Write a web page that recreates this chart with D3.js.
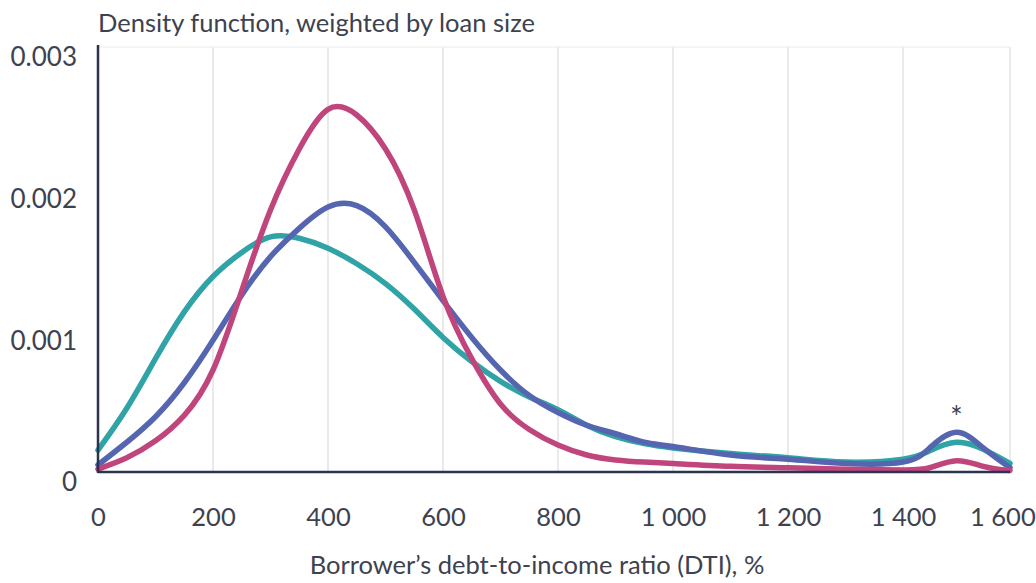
<!DOCTYPE html>
<html><head><meta charset="utf-8">
<script src="https://cdn.jsdelivr.net/npm/d3@7"></script>
<style>
body{margin:0;background:#fff;}
text{font-family:Lato,"Open Sans",sans-serif;fill:#3d4250;}
</style></head>
<body><svg id="c" width="1036" height="583"></svg>
<script>
const dti = [0,50,100,150,200,250,300,350,400,450,500,550,600,650,700,750,800,850,900,950,1000,1100,1200,1300,1400,1450,1500,1550,1600];
const seriesPink = [0.02,0.10,0.22,0.40,0.72,1.28,1.85,2.28,2.56,2.52,2.28,1.85,1.24,0.80,0.48,0.30,0.19,0.12,0.085,0.07,0.06,0.04,0.03,0.02,0.015,0.03,0.08,0.04,0.01];
const seriesBlue = [0.05,0.21,0.39,0.63,0.93,1.25,1.52,1.72,1.87,1.88,1.73,1.48,1.21,0.95,0.72,0.54,0.42,0.33,0.27,0.21,0.18,0.12,0.09,0.06,0.07,0.17,0.28,0.17,0.03];
const seriesTeal = [0.155,0.45,0.80,1.13,1.38,1.55,1.66,1.65,1.58,1.47,1.33,1.15,0.95,0.78,0.64,0.53,0.44,0.33,0.25,0.20,0.17,0.13,0.10,0.07,0.09,0.15,0.21,0.16,0.06];
const xTicks = [0,200,400,600,800,1000,1200,1400,1600];
const yTicks = [0,0.001,0.002,0.003];
const colors = {teal:"#2fa3a6", blue:"#5565b0", pink:"#c0457c"};

const svg = d3.select("#c");
const x = d3.scaleLinear().domain([0,1400,1600]).range([98,903,1010]);
const y = d3.scaleLinear().domain([0,0.003]).range([472,47]);

const fmtX = v => v>=1000 ? String(Math.floor(v/1000))+" "+String(v%1000).padStart(3,"0") : String(v);

// gridlines
svg.append("g").selectAll("line").data(xTicks.slice(1)).join("line")
  .attr("x1",d=>x(d)).attr("x2",d=>x(d)).attr("y1",y(0.003)).attr("y2",y(0))
  .attr("stroke","#e3e3e3").attr("stroke-width",1.5);
svg.append("line").attr("x1",x(0)).attr("x2",x(1600)).attr("y1",y(0.003)).attr("y2",y(0.003))
  .attr("stroke","#ececec").attr("stroke-width",1);

// x axis
const xa = svg.append("g").attr("transform",`translate(0,${y(0)})`)
  .call(d3.axisBottom(x).tickValues(xTicks).tickFormat(fmtX).tickSize(0).tickPadding(36));
xa.select(".domain").remove();
xa.selectAll("text").style("font-size","25.5px").style("font-family","Lato").attr("fill","#3d4250")
  .attr("dx",d=>d===1600?"-0.3em":0);

// y axis
const ya = svg.append("g").attr("transform",`translate(${x(0)},0)`)
  .call(d3.axisLeft(y).tickValues(yTicks).tickFormat(d=>d===0?"0":d3.format(".3f")(d)).tickSize(0).tickPadding(21));
ya.select(".domain").remove();
ya.selectAll("text").style("font-size","26px").style("font-family","Lato").attr("fill","#3d4250").attr("dy","0.72em");

// lines
const line = d3.line().x((d,i)=>x(dti[i])).y(d=>y(d/1000)).curve(d3.curveNatural);
[[seriesTeal,colors.teal],[seriesBlue,colors.blue],[seriesPink,colors.pink]].forEach(([s,c])=>{
  svg.append("path").datum(s).attr("d",line).attr("fill","none").attr("stroke",c)
    .attr("stroke-width",5.5).attr("stroke-linecap","round").attr("stroke-linejoin","round");
});

// axis lines
svg.append("line").attr("x1",x(0)).attr("x2",x(0)).attr("y1",y(0.003)-2).attr("y2",y(0)+1)
  .attr("stroke","#2b3350").attr("stroke-width",2.5);
svg.append("line").attr("x1",x(0)).attr("x2",x(1600)).attr("y1",y(0)).attr("y2",y(0))
  .attr("stroke","#2b3350").attr("stroke-width",2.5);

// star
svg.append("text").attr("x",x(1500)).attr("y",428).attr("text-anchor","middle")
  .style("font-size","30px").attr("fill","#222").text("*");

// titles
svg.append("text").attr("x",98).attr("y",32).style("font-size","25.5px").text("Density function, weighted by loan size");
svg.append("text").attr("x",537).attr("y",574).attr("text-anchor","middle").style("font-size","25.5px")
  .text("Borrower\u2019s debt-to-income ratio (DTI), %");
</script></body></html>
